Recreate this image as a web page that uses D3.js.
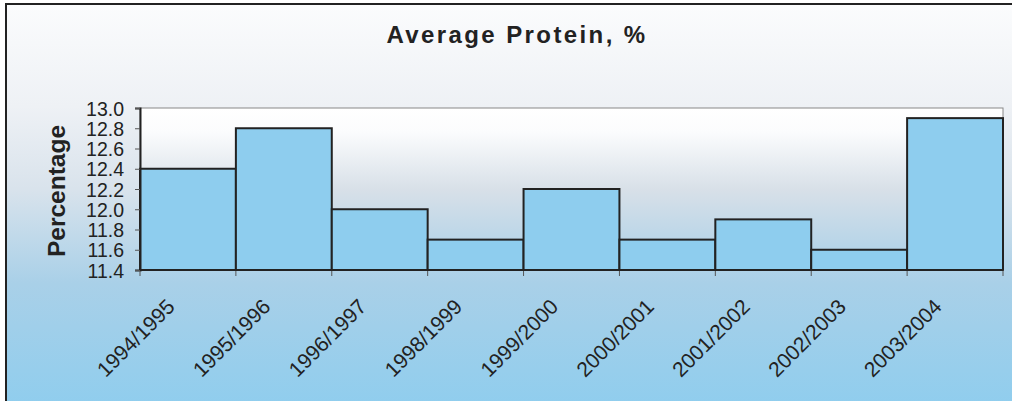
<!DOCTYPE html>
<html><head><meta charset="utf-8">
<script src="https://cdn.jsdelivr.net/npm/d3@7"></script>
<style>html,body{margin:0;padding:0;background:#fff;overflow:hidden}</style>
</head><body><svg id="c" width="1012" height="401"></svg>
<script>
const categories = ["1994/1995","1995/1996","1996/1997","1998/1999","1999/2000","2000/2001","2001/2002","2002/2003","2003/2004"];
const values = [12.4, 12.8, 12.0, 11.7, 12.2, 11.7, 11.9, 11.6, 12.9];
const yTicks = [11.4, 11.6, 11.8, 12.0, 12.2, 12.4, 12.6, 12.8, 13.0];
const title = "Average Protein, %";
const yTitle = "Percentage";

const svg = d3.select("#c");
const defs = svg.append("defs");
const bg = defs.append("linearGradient").attr("id","bg").attr("x1",0).attr("y1",0).attr("x2",0).attr("y2",1);
[[0,"#fbfcfd"],[0.25,"#eef1f5"],[0.45,"#d9e3ec"],[0.68,"#a9d0e8"],[1,"#8ecdee"]].forEach(([o,c])=>bg.append("stop").attr("offset",o).attr("stop-color",c));
const pg = defs.append("linearGradient").attr("id","pg").attr("x1",0).attr("y1",0).attr("x2",0).attr("y2",1);
[[0,"#ffffff"],[0.15,"#fbfcfd"],[0.5,"#d8e0e8"],[1,"#a9d0e8"]].forEach(([o,c])=>pg.append("stop").attr("offset",o).attr("stop-color",c));

svg.append("rect").attr("x",6).attr("y",4).attr("width",1020).attr("height",410)
  .attr("fill","url(#bg)").attr("stroke","#222").attr("stroke-width",2);

const L=140, R=1003, T=108, B=270;
const x = d3.scaleBand().domain(categories).range([L,R]).padding(0);
const y = d3.scaleLinear().domain([11.4,13.0]).range([B,T]);

svg.append("rect").attr("x",L).attr("y",T).attr("width",R-L).attr("height",B-T)
  .attr("fill","url(#pg)").attr("stroke","#888").attr("stroke-width",1);

svg.append("text").attr("x",517).attr("y",43).attr("text-anchor","middle")
  .attr("font-family","Liberation Sans, Arial, sans-serif").attr("font-weight","bold")
  .attr("font-size",24).attr("letter-spacing",2.4).attr("fill","#222").text(title);

svg.append("g").selectAll("rect").data(values).join("rect")
  .attr("x",(d,i)=>x(categories[i])).attr("width",x.bandwidth())
  .attr("y",d=>y(d)).attr("height",d=>B-y(d))
  .attr("fill","#8ecdee").attr("stroke","#222").attr("stroke-width",2);

const yAxis = svg.append("g").attr("transform",`translate(${L},0)`)
  .call(d3.axisLeft(y).tickValues(yTicks).tickFormat(d3.format(".1f")).tickSize(5).tickPadding(11));
yAxis.select(".domain").attr("stroke","#222").attr("stroke-width",2);
yAxis.selectAll(".tick line").attr("stroke","#555");
yAxis.selectAll("text").attr("font-family","Liberation Sans, Arial, sans-serif").attr("font-size",19.5).attr("fill","#222").attr("dy","0.36em");

const xTickPos = categories.map(c=>x(c)).concat([R]);
svg.append("g").selectAll("line").data(xTickPos).join("line")
  .attr("x1",d=>d).attr("x2",d=>d).attr("y1",B).attr("y2",B+6).attr("stroke","#555").attr("stroke-width",1);
svg.append("line").attr("x1",L).attr("x2",R).attr("y1",B).attr("y2",B).attr("stroke","#222").attr("stroke-width",2);

svg.append("g").selectAll("text").data(categories).join("text")
  .attr("transform",d=>`translate(${x(d)+x.bandwidth()/2-12},${B+38}) rotate(-45)`)
  .attr("text-anchor","end")
  .attr("font-family","Liberation Sans, Arial, sans-serif").attr("font-size",21).attr("fill","#222")
  .text(d=>d);

svg.append("text").attr("transform",`translate(65,${(T+B)/2 + 2}) rotate(-90)`).attr("text-anchor","middle")
  .attr("font-family","Liberation Sans, Arial, sans-serif").attr("font-weight","bold")
  .attr("font-size",24.5).attr("fill","#222").text(yTitle);
</script></body></html>
